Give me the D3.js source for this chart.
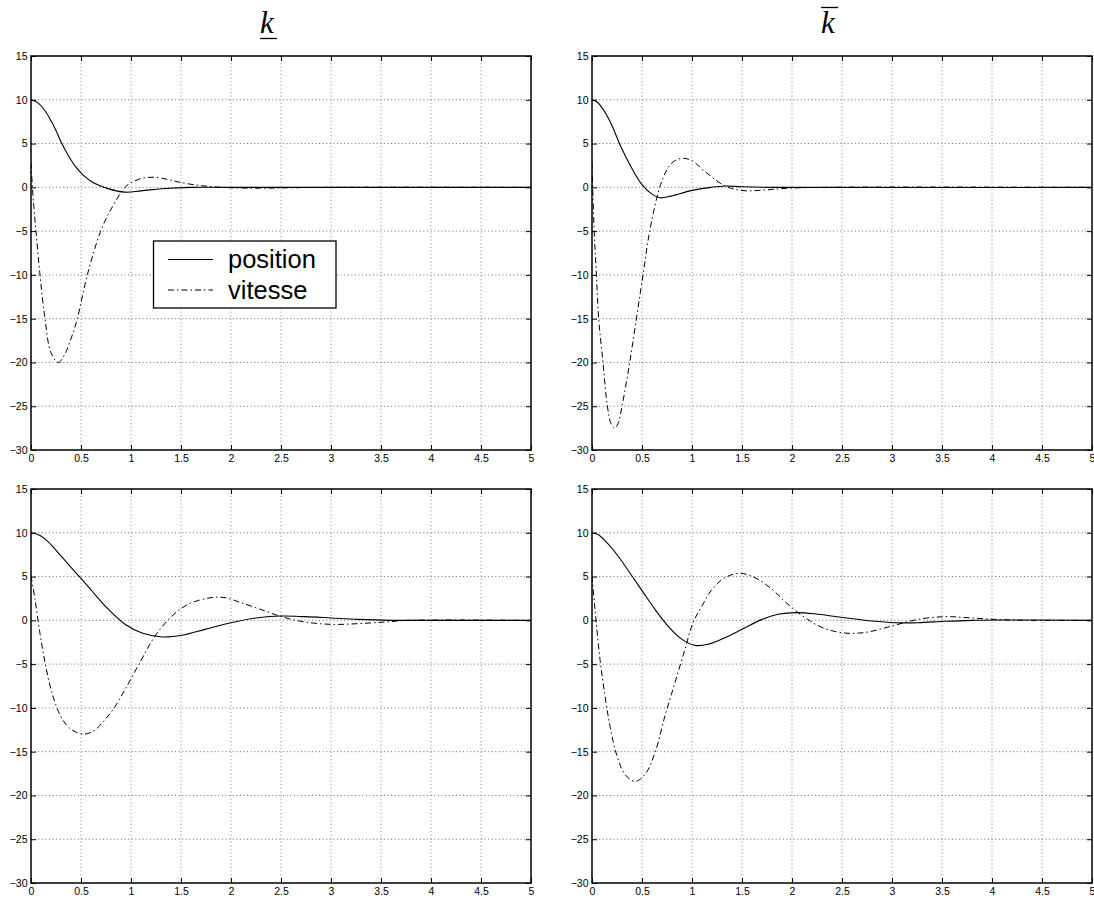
<!DOCTYPE html>
<html>
<head>
<meta charset="utf-8">
<script src="https://cdn.jsdelivr.net/npm/d3@7"></script>
<style>
  html, body { margin: 0; padding: 0; background: #fff; }
  svg { display: block; }
</style>
</head>
<body>
<script>
// ---------- data ----------
const xTicks = [0, 0.5, 1, 1.5, 2, 2.5, 3, 3.5, 4, 4.5, 5];
const xTickLabels = ["0", "0.5", "1", "1.5", "2", "2.5", "3", "3.5", "4", "4.5", "5"];
const yTicks = [15, 10, 5, 0, -5, -10, -15, -20, -25, -30];
const yTickLabels = ["15", "10", "5", "0", "\u22125", "\u221210", "\u221215", "\u221220", "\u221225", "\u221230"];
const seriesNames = ["position", "vitesse"];

// top-left (k underline)
const tPosA = [0, 0.07, 0.14, 0.2, 0.25, 0.3, 0.37, 0.45, 0.53, 0.62, 0.77, 0.94, 1.1, 1.34, 1.6, 2, 5];
const posA  = [10, 9.65, 8.75, 7.6, 6.5, 5.2, 3.7, 2.3, 1.3, 0.55, -0.15, -0.55, -0.4, -0.13, 0, 0, 0];
const tVelA = [0, 0.02, 0.05, 0.09, 0.14, 0.2, 0.273, 0.34, 0.4, 0.463, 0.563, 0.697, 0.8, 0.94, 1.0, 1.1, 1.22, 1.35, 1.46, 1.6, 1.8, 2.0, 2.3, 2.6, 3.0, 5];
const velA  = [2.8, -1, -5, -10, -15, -18.9, -20, -19, -17.3, -15, -10, -5, -2.5, 0, 0.5, 1.0, 1.15, 0.95, 0.65, 0.35, 0.08, -0.05, -0.1, -0.05, 0, 0];

// top-right (k overline)
const tPosB = [0, 0.05, 0.1, 0.19, 0.29, 0.39, 0.49, 0.59, 0.68, 0.79, 0.99, 1.19, 1.33, 1.5, 1.8, 5];
const posB  = [10, 9.75, 9.1, 7.3, 4.6, 2.35, 0.46, -0.69, -1.19, -1.0, -0.38, 0, 0.15, 0.07, 0, 0];
const tVelB = [0, 0.02, 0.044, 0.067, 0.11, 0.154, 0.19, 0.227, 0.26, 0.3, 0.377, 0.444, 0.51, 0.577, 0.677, 0.74, 0.8, 0.89, 0.99, 1.13, 1.26, 1.36, 1.53, 1.73, 1.93, 2.3, 5];
const velB  = [2.8, -4.5, -10, -15, -20, -25, -27, -27.5, -27, -25, -20, -15, -10, -5, 0, 1.8, 2.8, 3.3, 3.1, 1.8, 0.64, 0, -0.39, -0.3, -0.12, 0, 0];

// bottom-left
const tPosC = [0, 0.07, 0.14, 0.22, 0.3, 0.4, 0.5, 0.61, 0.77, 0.94, 1.11, 1.31, 1.51, 1.74, 2.0, 2.27, 2.5, 2.74, 3.0, 3.27, 3.6, 4, 5];
const posC  = [10, 9.8, 9.3, 8.4, 7.35, 6.05, 4.8, 3.35, 1.3, -0.45, -1.45, -1.9, -1.71, -1.03, -0.27, 0.3, 0.49, 0.42, 0.27, 0.11, 0, 0, 0];
const tVelC = [0, 0.04, 0.09, 0.14, 0.21, 0.29, 0.35, 0.42, 0.53, 0.63, 0.72, 0.82, 0.94, 1.07, 1.24, 1.41, 1.57, 1.8, 1.94, 2.1, 2.34, 2.54, 2.74, 3.0, 3.27, 3.54, 3.77, 4.1, 4.5, 5];
const velC  = [5.06, 2.4, -1.5, -4.8, -8.3, -10.8, -11.9, -12.6, -13.0, -12.6, -11.6, -10.2, -7.9, -5.2, -1.8, 0.49, 1.83, 2.59, 2.59, 2.02, 1.07, 0.3, -0.19, -0.46, -0.38, -0.19, 0, 0.04, 0.03, 0];

// bottom-right
const tPosD = [0, 0.06, 0.13, 0.26, 0.4, 0.5, 0.63, 0.76, 0.9, 1.03, 1.16, 1.33, 1.5, 1.7, 1.86, 2.06, 2.26, 2.53, 2.8, 3.03, 3.26, 3.53, 3.8, 4.1, 5];
const posD  = [10, 9.8, 9.1, 7.35, 5.06, 3.4, 1.26, -0.65, -2.17, -2.86, -2.74, -1.98, -1.03, 0.11, 0.69, 0.88, 0.69, 0.3, -0.08, -0.27, -0.27, -0.11, 0, 0.04, 0];
const tVelD = [0, 0.03, 0.08, 0.13, 0.18, 0.25, 0.33, 0.43, 0.53, 0.63, 0.73, 0.83, 0.93, 1.01, 1.1, 1.2, 1.33, 1.48, 1.63, 1.8, 1.96, 2.13, 2.33, 2.56, 2.76, 3.0, 3.26, 3.53, 3.76, 4.03, 4.3, 5];
const velD  = [5.06, 1.26, -4.45, -8.6, -12.1, -15.5, -17.6, -18.4, -17.6, -15.1, -10.9, -7.1, -3.3, -0.27, 1.64, 3.54, 4.87, 5.37, 4.87, 3.54, 1.83, 0.3, -0.95, -1.48, -1.33, -0.65, 0.11, 0.42, 0.3, 0.11, 0, 0];

// ---------- layout ----------
const W = 1094, H = 899;
const panels = [
  { id: "A", left: 31,  right: 531,  top: 56,  bottom: 450, tp: tPosA, p: posA, tv: tVelA, v: velA, title: "under", legend: true },
  { id: "B", left: 592, right: 1092, top: 56,  bottom: 450, tp: tPosB, p: posB, tv: tVelB, v: velB, title: "over" },
  { id: "C", left: 31,  right: 531,  top: 489, bottom: 883, tp: tPosC, p: posC, tv: tVelC, v: velC },
  { id: "D", left: 592, right: 1092, top: 489, bottom: 883, tp: tPosD, p: posD, tv: tVelD, v: velD }
];

const svg = d3.select("body").append("svg").attr("width", W).attr("height", H);
const FONT = "'Liberation Sans', Arial, Helvetica, sans-serif";
const dashDot = "6,3,1.5,3";

panels.forEach(pn => {
  const x = d3.scaleLinear().domain([0, 5]).range([pn.left, pn.right]);
  const y = d3.scaleLinear().domain([-30, 15]).range([pn.bottom, pn.top]);
  const g = svg.append("g");

  const clipId = "clip" + pn.id;
  svg.append("clipPath").attr("id", clipId).append("rect")
    .attr("x", pn.left).attr("y", pn.top)
    .attr("width", pn.right - pn.left).attr("height", pn.bottom - pn.top);

  // grid
  g.append("g").selectAll("line").data(xTicks.slice(1, -1)).join("line")
    .attr("x1", d => x(d)).attr("x2", d => x(d))
    .attr("y1", pn.top).attr("y2", pn.bottom)
    .attr("stroke", "#8a8a8a").attr("stroke-width", 1)
    .attr("stroke-dasharray", "1,2.6");
  g.append("g").selectAll("line").data(yTicks.slice(1, -1)).join("line")
    .attr("x1", pn.left).attr("x2", pn.right)
    .attr("y1", d => y(d)).attr("y2", d => y(d))
    .attr("stroke", "#6a6a6a").attr("stroke-width", 1)
    .attr("stroke-dasharray", "1,2.6");

  // lines
  const line = d3.line().x(d => x(d[0])).y(d => y(d[1])).curve(d3.curveCatmullRom.alpha(0.5));
  const posData = pn.tp.map((t, i) => [t, pn.p[i]]);
  const velData = pn.tv.map((t, i) => [t, pn.v[i]]);
  const lg = g.append("g").attr("clip-path", `url(#${clipId})`);
  lg.append("path").datum(velData).attr("d", line)
    .attr("fill", "none").attr("stroke", "#000").attr("stroke-width", 1)
    .attr("stroke-dasharray", dashDot);
  lg.append("path").datum(posData).attr("d", line)
    .attr("fill", "none").attr("stroke", "#000").attr("stroke-width", 1.1);

  // axes with inward ticks
  const fmtX = (d) => xTickLabels[xTicks.indexOf(d)];
  const fmtY = (d) => yTickLabels[yTicks.indexOf(d)];
  const axB = g.append("g").attr("transform", `translate(0,${pn.bottom})`)
    .call(d3.axisBottom(x).tickValues(xTicks).tickFormat(fmtX).tickSizeInner(-5).tickSizeOuter(0).tickPadding(5));
  const axT = g.append("g").attr("transform", `translate(0,${pn.top})`)
    .call(d3.axisTop(x).tickValues(xTicks).tickFormat("").tickSizeInner(-5).tickSizeOuter(0));
  const axL = g.append("g").attr("transform", `translate(${pn.left},0)`)
    .call(d3.axisLeft(y).tickValues(yTicks).tickFormat(fmtY).tickSizeInner(-5).tickSizeOuter(0).tickPadding(3.5));
  const axR = g.append("g").attr("transform", `translate(${pn.right},0)`)
    .call(d3.axisRight(y).tickValues(yTicks).tickFormat("").tickSizeInner(-5).tickSizeOuter(0));
  [axB, axT, axL, axR].forEach(a => {
    a.select(".domain").remove();
    a.selectAll(".tick line").attr("stroke", "#000").attr("stroke-width", 1);
    a.selectAll(".tick text").attr("fill", "#000").style("font-family", FONT).style("font-size", "10.5px");
  });

  // frame
  g.append("rect").attr("x", pn.left).attr("y", pn.top)
    .attr("width", pn.right - pn.left).attr("height", pn.bottom - pn.top)
    .attr("fill", "none").attr("stroke", "#000").attr("stroke-width", 1.5);

  // title
  if (pn.title) {
    const cx = (pn.left + pn.right) / 2 - 14;
    const tt = svg.append("text").attr("x", cx).attr("y", 33)
      .attr("text-anchor", "middle")
      .style("font-family", "'Liberation Serif', 'DejaVu Serif', serif")
      .style("font-style", "italic").style("font-size", "31px")
      .text("k");
    const bb = tt.node().getBBox();
    const ly = pn.title === "under" ? 38.5 : 7.5;
    svg.append("line").attr("x1", bb.x).attr("x2", bb.x + bb.width + 2)
      .attr("y1", ly).attr("y2", ly).attr("stroke", "#000").attr("stroke-width", 1.3);
  }

  // legend
  if (pn.legend) {
    const lgd = svg.append("g");
    lgd.append("rect").attr("x", 153.5).attr("y", 241).attr("width", 182.5).attr("height", 67)
      .attr("fill", "#fff").attr("stroke", "#000").attr("stroke-width", 1.3);
    const rows = [
      { name: seriesNames[0], y: 259.5, dash: null },
      { name: seriesNames[1], y: 290, dash: dashDot }
    ];
    rows.forEach(r => {
      lgd.append("line").attr("x1", 168).attr("x2", 213).attr("y1", r.y).attr("y2", r.y)
        .attr("stroke", "#000").attr("stroke-width", 1)
        .attr("stroke-dasharray", r.dash);
      lgd.append("text").attr("x", 228).attr("y", r.y + 8.5)
        .style("font-family", FONT).style("font-size", "25.5px").attr("fill", "#000")
        .text(r.name);
    });
  }
});
</script>
</body>
</html>
